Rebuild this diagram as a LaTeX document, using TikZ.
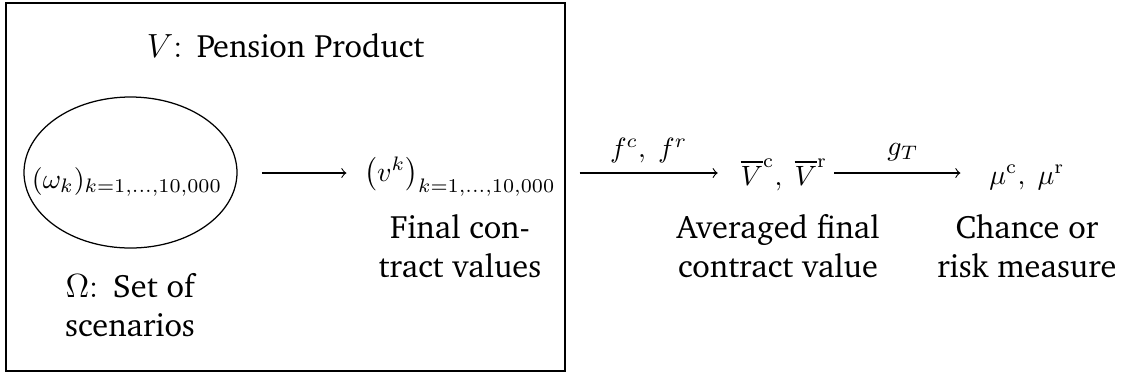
\documentclass[tikz,border=0pt]{standalone}
\usepackage[T1]{fontenc}
\renewcommand{\rmdefault}{bch}
\usetikzlibrary{shapes.geometric,calc}
\begin{document}
\begin{tikzpicture}[x=0.35842pt, y=-0.35842pt,
  every node/.style={inner sep=0pt, outer sep=0pt},
  lbl/.style={align=center, font=\fontsize{11.6}{13.98}\selectfont, anchor=base},
  mth/.style={anchor=base, font=\normalsize},
  arr/.style={->, line width=0.4pt}]
\useasboundingbox (0,0) rectangle (1129,377);
% product box
\node[draw, line width=0.5pt, minimum width=200.35pt, minimum height=131.89pt] (prod) at (285.5,187) {};
\node[lbl] (title) at (285.5,57) {$V\colon{}$ Pension Product};
% scenarios
\node[draw, line width=0.45pt, ellipse, minimum width=76.34pt, minimum height=54.12pt] (ell) at (130.5,172.5) {};
\node[mth] (om) at (127,188) {$(\omega_k)_{k=1,\dots,10{,}000}$};
\node[lbl] (omlbl) at (130,336) {$\Omega\colon{}$ Set of\\scenarios};
% final contract values
\node[mth] (vk) at (460,181) {$\left(v^k\right)_{k=1,\dots,10{,}000}$};
\node[lbl] (vklbl) at (460,277) {Final con-\\tract values};
% averaged
\node[mth] (vbar) at (784,185) {$\overline{V}^{\mathrm{c}},\ \overline{V}^{\mathrm{r}}$};
\node[lbl] (vbarlbl) at (778,277) {Averaged final\\contract value};
% measures
\node[mth] (mu) at (1027,184) {$\mu^{\mathrm{c}},\ \mu^{\mathrm{r}}$};
\node[lbl] (mulbl) at (1027,277) {Chance or\\risk measure};
% arrows
\coordinate (ax) at (0,173);
\draw[arr] ($(ell.east |- ax)+(25,0)$) -- ($(vk.west |- ax)+(-18,0)$);
\draw[arr] ($(vk.east |- ax)+(24,0)$) -- node[midway, above=3.6pt, mth, anchor=south] (flbl) {$f^c,\ f^r$} ($(vbar.west |- ax)+(-23,0)$);
\draw[arr] ($(vbar.east |- ax)+(7,0)$) -- node[midway, above=4.3pt, mth, anchor=south, xshift=2pt] (glbl) {$g_T$} ($(mu.west |- ax)+(-29,0)$);
\end{tikzpicture}
\end{document}
